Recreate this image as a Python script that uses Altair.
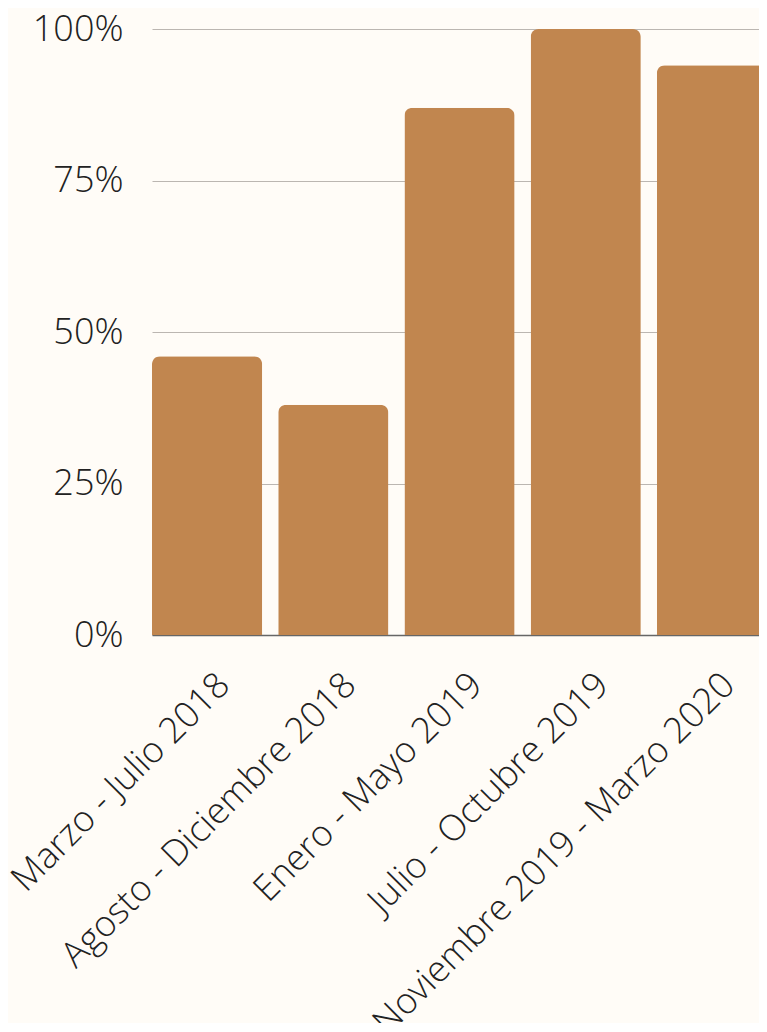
import altair as alt
import pandas as pd

periods = [
    "Marzo - Julio 2018",
    "Agosto - Diciembre 2018",
    "Enero - Mayo 2019",
    "Julio - Octubre 2019",
    "Noviembre 2019 - Marzo 2020",
]
values = [0.46, 0.38, 0.87, 1.00, 0.94]

df = pd.DataFrame({"periodo": periods, "valor": values})

chart = (
    alt.Chart(df)
    .mark_bar(color="#C1864F", cornerRadiusTopLeft=8, cornerRadiusTopRight=8)
    .encode(
        x=alt.X(
            "periodo:N",
            sort=periods,
            title=None,
            scale=alt.Scale(paddingInner=0.127, paddingOuter=0, range=[0, 615]),
            axis=alt.Axis(
                labelAngle=-45,
                labelAlign="right",
                labelBaseline="top",
                labelFont="Open Sans",
                labelFontWeight=300,
                labelFontSize=36,
                labelColor="#222222",
                labelPadding=32,
                labelOffset=5,
                ticks=False,
                domainColor="#666666",
                domainWidth=1.5,
                labelLimit=0,
            ),
        ),
        y=alt.Y(
            "valor:Q",
            title=None,
            scale=alt.Scale(domain=[0, 1]),
            axis=alt.Axis(
                values=[0, 0.25, 0.5, 0.75, 1.0],
                format=".0%",
                labelFont="Open Sans",
                labelFontWeight=300,
                labelFontSize=36,
                labelColor="#222222",
                labelPadding=29,
                ticks=False,
                domain=False,
                gridColor="#BBB6B1",
                gridWidth=1.2,
            ),
        ),
    )
    .properties(
        width=607,
        height=606,
        background="#FFFCF7",
        autosize=alt.AutoSizeParams(type="none"),
        padding={"left": 144, "top": 21, "right": 0, "bottom": 388},
    )
    .configure_view(stroke=None)
)

chart.save("out.html", embed_options={"renderer": "svg", "actions": False})
